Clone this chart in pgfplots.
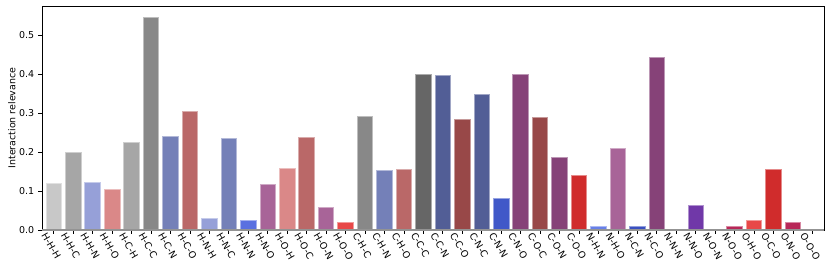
\documentclass[border=0pt]{standalone}
\usepackage{pgfplots}
\pgfplotsset{compat=1.18}
\usepackage{fontspec}
\setmainfont{DejaVu Sans}
\definecolor{cHHH}{HTML}{C8C8C8}
\definecolor{gA}{HTML}{A6A6A6}
\definecolor{gB}{HTML}{888888}
\definecolor{gC}{HTML}{666666}
\definecolor{bA}{HTML}{96A0D8}
\definecolor{bB}{HTML}{7480B8}
\definecolor{bC}{HTML}{525E96}
\definecolor{bD}{HTML}{5A70E0}
\definecolor{bE}{HTML}{4058C8}
\definecolor{bF}{HTML}{6880E8}
\definecolor{bG}{HTML}{3A50C0}
\definecolor{bH}{HTML}{2A40D8}
\definecolor{rA}{HTML}{DA8888}
\definecolor{rB}{HTML}{BA6868}
\definecolor{rC}{HTML}{984848}
\definecolor{rD}{HTML}{E84848}
\definecolor{rE}{HTML}{D02C2C}
\definecolor{pA}{HTML}{A86498}
\definecolor{pB}{HTML}{864278}
\definecolor{pC}{HTML}{7038A8}
\definecolor{mA}{HTML}{B82858}
\newcommand{\bb}[3]{\addplot[fill=#1, draw=#1!55!white, line width=0.6bp] coordinates {(#2,#3)};}
\begin{document}
\begin{tikzpicture}
\fontsize{9.5}{11}\selectfont
\begin{axis}[
  scale only axis,
  width=782bp, height=224bp,
  ybar, bar width=0.8, bar shift=0pt,
  xmin=-0.6, xmax=39.6,
  ymin=0, ymax=0.574,
  xtick={0,...,39},
  xticklabels={H-H-H,H-H-C,H-H-N,H-H-O,H-C-H,H-C-C,H-C-N,H-C-O,H-N-H,H-N-C,H-N-N,H-N-O,H-O-H,H-O-C,H-O-N,H-O-O,C-H-C,C-H-N,C-H-O,C-C-C,C-C-N,C-C-O,C-N-C,C-N-N,C-N-O,C-O-C,C-O-N,C-O-O,N-H-N,N-H-O,N-C-N,N-C-O,N-N-N,N-N-O,N-O-N,N-O-O,O-H-O,O-C-O,O-N-O,O-O-O},
  ytick={0,0.1,0.2,0.3,0.4,0.5},
  yticklabel style={/pgf/number format/.cd, fixed, fixed zerofill, precision=1, /tikz/.cd, font=\fontsize{9.5}{11}\selectfont, xshift=-1bp},
  /pgf/number format/assume math mode=true,
  xticklabel style={rotate=-60, anchor=north west, inner sep=0pt, xshift=-5bp, yshift=-4.5bp, font=\fontsize{9.5}{11}\selectfont},
  tick align=outside,
  major tick length=3.5bp,
  tick style={black, line width=0.6bp},
  xtick pos=bottom, ytick pos=left,
  axis line style={black, line width=0.8bp},
  ylabel={Interaction relevance},
  ylabel style={at={(axis description cs:-0.0384,0.5)}, anchor=center, rotate=0, font=\fontsize{9.5}{11}\selectfont},
  clip=false,
]
\bb{cHHH}{0}{0.119}
\bb{gA}{1}{0.198}
\bb{bA}{2}{0.121}
\bb{rA}{3}{0.105}
\bb{gA}{4}{0.226}
\bb{gB}{5}{0.546}
\bb{bB}{6}{0.239}
\bb{rB}{7}{0.305}
\bb{bA}{8}{0.031}
\bb{bB}{9}{0.234}
\bb{bD}{10}{0.026}
\bb{pA}{11}{0.116}
\bb{rA}{12}{0.159}
\bb{rB}{13}{0.237}
\bb{pA}{14}{0.058}
\bb{rD}{15}{0.021}
\bb{gB}{16}{0.291}
\bb{bB}{17}{0.152}
\bb{rB}{18}{0.156}
\bb{gC}{19}{0.400}
\bb{bC}{20}{0.397}
\bb{rC}{21}{0.283}
\bb{bC}{22}{0.347}
\bb{bE}{23}{0.081}
\bb{pB}{24}{0.400}
\bb{rC}{25}{0.288}
\bb{pB}{26}{0.186}
\bb{rE}{27}{0.139}
\bb{bF}{28}{0.010}
\bb{pA}{29}{0.209}
\bb{bG}{30}{0.009}
\bb{pB}{31}{0.443}
\bb{bH}{32}{0.003}
\bb{pC}{33}{0.063}
\bb{pC}{34}{0.0}
\bb{mA}{35}{0.009}
\bb{rD}{36}{0.026}
\bb{rE}{37}{0.156}
\bb{mA}{38}{0.019}
\bb{gB}{39}{0.0}
\draw[gray!85, line width=1.3bp] (rel axis cs:0,0) -- (rel axis cs:1,0);
\end{axis}
\pgfresetboundingbox
\path ([shift={(-42bp,-39bp)}]current axis.south west) rectangle ([shift={(6bp,6bp)}]current axis.north east);
\end{tikzpicture}
\end{document}
